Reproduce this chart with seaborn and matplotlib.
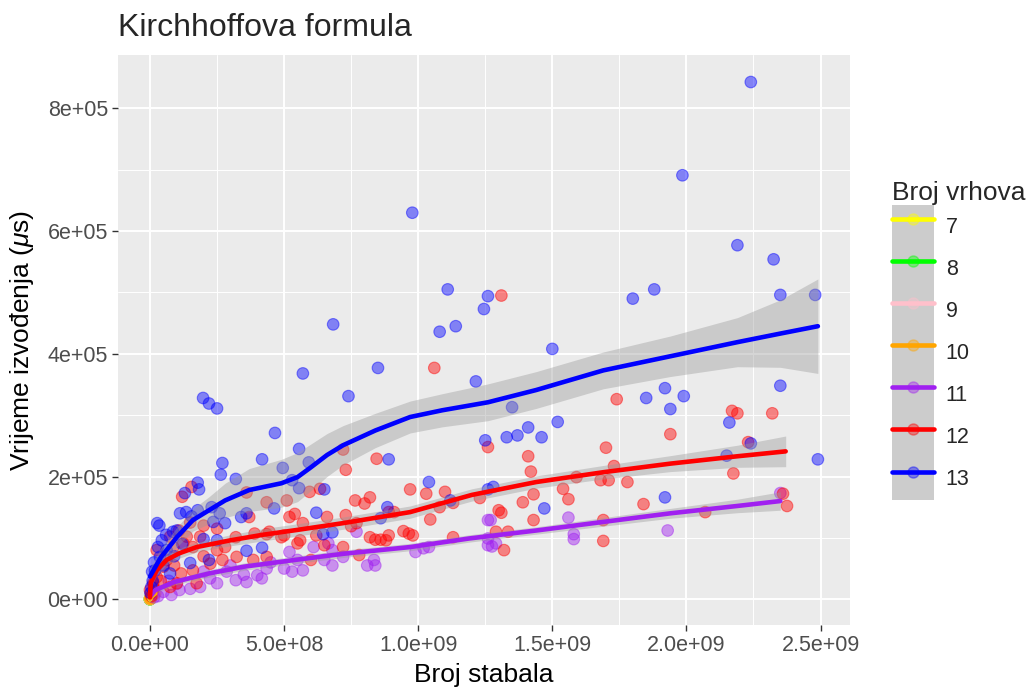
import numpy as np
import pandas as pd
import matplotlib
matplotlib.use("Agg")
import matplotlib.pyplot as plt
import seaborn as sns
from matplotlib.lines import Line2D
from matplotlib.patches import Patch

# values: x in units of 1e8 trees, y in units of 1e4 microseconds
X_UNIT = 1e8
Y_UNIT = 1e4

groups = ["7", "8", "9", "10", "11", "12", "13"]
colors = ["#FFFF00", "#00FF00", "#FFC0CB", "#FFA500", "#A020F0", "#FF0000", "#0000FF"]

x_7 = [0.00002, 0.00004, 0.00006]
y_7 = [0.001, 0.0015, 0.002]
x_8 = [0.0002, 0.0004, 0.0006, 0.001]
y_8 = [0.005, 0.01, 0.012, 0.02]
x_9 = [0.001, 0.002, 0.004, 0.006, 0.01]
y_9 = [0.02, 0.03, 0.05, 0.08, 0.1]
x_10 = [0.005, 0.01, 0.02, 0.04, 0.06, 0.1, 0.15, 0.2]
y_10 = [0.05, 0.1, 0.15, 0.3, 0.4, 0.6, 0.8, 1.0]

x_11 = [12.7, 15.6, 15.8, 15.8, 19.3, 23.5, 12.6, 12.75, 12.9, 5.2, 5.5, 5.0, 5.3, 4.35,
        4.0, 4.17, 3.6, 3.2, 2.24, 2.5, 1.5, 0.8, 1.1, 1.87, 2.86, 6.65, 6.8, 6.5, 6.8,
        7.7, 8.1, 8.35, 8.4, 9.9, 10.4, 10.2, 12.6, 12.6, 7.2, 6.1, 5.7, 0.3, 0.5, 0.15,
        1.0, 2.0, 3.0, 3.5, 4.5, 0.7]
y_11 = [12.9, 13.3, 10.6, 9.8, 11.2, 17.3, 9.9, 8.6, 9.1, 7.7, 6.4, 5.0, 4.5, 5.0,
        3.9, 3.4, 2.8, 3.1, 3.4, 2.6, 1.7, 0.7, 1.5, 2.0, 4.5, 9.1, 8.0, 6.4, 5.5,
        11.0, 5.5, 6.4, 5.5, 7.7, 8.5, 8.3, 12.9, 8.8, 6.9, 8.5, 4.7, 0.5, 1.2, 0.3,
        2.5, 4.5, 5.5, 4.0, 6.0, 3.0]

x_12 = [13.1, 10.6, 12.6, 14.1, 14.2, 17.4, 17.0, 17.3, 19.4, 21.7, 21.9, 23.2, 22.3, 21.75,
        15.9, 16.8, 17.1, 17.8, 15.4, 14.3, 15.6, 13.9, 12.3, 13.0, 13.1, 14.3, 18.4, 16.9,
        20.7, 23.6, 23.75, 12.9, 13.35, 13.2, 16.9, 7.3, 8.45, 7.2, 1.2, 1.55, 3.6, 4.35,
        5.1, 5.95, 6.34, 9.7, 10.3, 11.0, 11.3, 10.8, 7.65, 8.0, 8.2, 5.2, 5.4, 5.7, 3.7,
        10.45, 8.9, 9.1, 7.3, 6.6, 7.5, 7.7, 6.2, 6.5, 5.6, 5.5, 5.0, 4.45, 4.35, 4.9, 3.9,
        3.2, 9.45, 9.65, 9.8, 8.2, 8.4, 8.6, 8.8, 8.9, 7.2, 7.8, 11.3, 6.0, 3.85, 4.35, 3.23,
        2.7, 2.5, 2.25, 1.6, 1.74, 1.16, 1.0, 0.5, 0.62, 0.87, 1.24, 1.6, 1.87, 1.37, 1.08,
        0.75, 0.25, 0.12, 0.0, 0.25, 0.75, 0.05, 0.03, 0.15, 0.4, 0.9, 2.0, 2.8, 2.0, 2.5, 1.5]
y_12 = [49.5, 37.7, 24.8, 23.3, 20.8, 32.6, 24.7, 21.7, 26.9, 30.7, 30.3, 30.3, 25.6, 20.5,
        19.9, 19.4, 19.4, 19.1, 18.0, 17.1, 16.3, 15.8, 16.5, 14.5, 14.1, 12.9, 15.5, 12.9,
        14.2, 17.2, 15.2, 11.0, 11.0, 8.0, 9.5, 21.1, 22.9, 24.4, 16.7, 18.3, 17.4, 15.8,
        16.1, 17.5, 18.0, 17.9, 17.2, 17.5, 15.7, 15.0, 16.1, 15.6, 16.6, 13.4, 13.9, 12.4, 13.4,
        13.0, 14.2, 14.2, 13.7, 13.4, 11.9, 12.4, 10.4, 8.8, 9.6, 9.1, 10.4, 11.0, 10.6, 10.1, 10.7,
        10.1, 11.1, 10.7, 10.4, 10.1, 9.7, 9.7, 9.6, 10.4, 8.5, 7.2, 10.1, 6.4, 6.4, 6.9, 6.9,
        6.4, 8.0, 5.8, 4.7, 2.6, 4.2, 2.6, 5.3, 6.4, 8.5, 9.1, 8.5, 10.2, 10.2, 11.2,
        10.2, 8.0, 2.6, 1.5, 3.6, 2.0, 0.5, 1.0, 1.8, 3.0, 5.5, 7.0, 8.5, 12.0, 11.5, 12.5]

x_13 = [22.4, 19.85, 9.78, 21.9, 23.25, 23.5, 24.8, 11.1, 12.6, 12.45, 10.8, 11.4, 6.83, 5.7,
        8.5, 15.0, 18.0, 18.8, 12.15, 18.5, 19.2, 19.4, 19.9, 21.6, 22.4, 21.5, 23.5, 24.9,
        13.5, 12.5, 13.3, 13.7, 14.1, 14.6, 15.2, 12.8, 12.6, 14.7, 19.2, 10.4, 7.4, 4.66,
        6.5, 8.9, 11.2, 1.98, 2.2, 2.5, 5.56, 2.7, 2.64, 4.18, 3.2, 4.95, 5.92, 1.78, 1.3,
        1.83, 0.27, 0.35, 1.35, 1.12, 1.55, 1.78, 1.0, 2.3, 2.6, 2.8, 3.4, 3.6, 4.63, 5.56,
        6.2, 6.46, 6.8, 8.6, 2.36, 2.5, 2.0, 3.6, 4.18, 2.2, 1.5, 0.44, 0.62, 0.86, 0.37,
        0.19, 0.75, 0.05, 0.1, 0.02, 0.15, 0.3, 0.5, 0.08, 0.6, 1.2, 0.9, 8.85, 5.3]
y_13 = [84.3, 69.1, 63.0, 57.7, 55.4, 49.6, 49.6, 50.5, 49.4, 47.3, 43.6, 44.5, 44.8, 36.8,
        37.7, 40.8, 49.0, 50.5, 35.5, 32.8, 34.4, 31.0, 33.1, 28.8, 25.4, 23.4, 34.8, 22.8,
        31.3, 25.9, 26.4, 26.7, 28.0, 26.4, 28.9, 18.3, 17.9, 14.8, 16.6, 19.1, 33.1, 27.1,
        17.9, 22.8, 16.1, 32.8, 31.9, 31.1, 24.5, 22.2, 20.3, 22.8, 19.6, 21.4, 22.3, 19.0, 17.3,
        17.9, 12.4, 12.0, 14.2, 14.0, 13.5, 14.5, 11.2, 15.0, 14.0, 12.4, 13.4, 14.0, 14.8, 18.1,
        14.1, 10.6, 10.9, 13.2, 12.6, 9.6, 9.8, 7.9, 8.4, 6.4, 5.9, 9.6, 8.0, 11.0, 6.9,
        4.7, 4.2, 2.0, 3.0, 1.0, 6.0, 8.5, 5.5, 4.5, 10.5, 9.0, 7.0, 15.0, 19.4]

# loess curves and their standard error half widths
fit_x_7 = [0.0, 0.00006]
fit_y_7 = [0.0, 0.002]
fit_se_7 = [0.05, 0.05]
fit_x_8 = [0.0, 0.001]
fit_y_8 = [0.0, 0.02]
fit_se_8 = [0.05, 0.05]
fit_x_9 = [0.0, 0.01]
fit_y_9 = [0.0, 0.1]
fit_se_9 = [0.05, 0.05]
fit_x_10 = [0.0, 0.1, 0.2]
fit_y_10 = [0.05, 0.55, 0.95]
fit_se_10 = [0.1, 0.1, 0.15]
fit_x_11 = [0, 0.2, 0.9, 2.2, 3.5, 5.4, 7.2, 9.7, 11.9, 14.4, 16.9, 19.4, 21.9, 23.5]
fit_y_11 = [0.4, 1.5, 2.8, 4.2, 5.3, 6.4, 7.4, 8.5, 9.9, 11.2, 12.6, 14.0, 15.2, 16.0]
fit_se_11 = [0.5, 0.5, 0.5, 0.6, 0.6, 0.6, 0.6, 0.6, 0.6, 0.6, 0.7, 0.8, 1.1, 1.5]
fit_x_12 = [0, 0.03, 0.25, 0.62, 1.1, 1.74, 3.0, 4.2, 5.5, 7.2, 9.7, 12.0, 14.4, 16.9, 19.4, 21.9, 23.7]
fit_y_12 = [0.3, 2.7, 4.7, 6.4, 7.5, 8.5, 9.6, 10.5, 11.3, 12.4, 14.2, 17.0, 19.1, 20.7, 22.1, 23.3, 24.1]
fit_se_12 = [0.8, 0.8, 0.8, 0.8, 0.8, 0.8, 0.9, 1.0, 1.0, 1.0, 1.0, 1.0, 1.0, 1.1, 1.3, 1.8, 2.5]
fit_x_13 = [0, 0.4, 1, 1.6, 2.2, 2.8, 3.7, 4.9, 5.5, 6.0, 6.6, 7.2, 8.4, 9.7, 10.9, 12.6, 14.4,
            16.9, 19.4, 21.9, 23.5, 24.9]
fit_y_13 = [3.7, 6.8, 10.1, 12.9, 14.5, 16.1, 17.8, 18.9, 19.9, 21.5, 23.5, 25.1, 27.5, 29.7,
            30.8, 32.1, 34.1, 37.3, 39.6, 41.9, 43.3, 44.5]
fit_se_13 = [1.5, 1.5, 1.6, 1.8, 2.2, 2.8, 3.5, 3.9, 4.0, 3.8, 3.5, 3.2, 2.8, 2.6, 2.7, 3.0,
             3.0, 3.0, 3.3, 4.0, 5.5, 7.7]

x_ticks = [0.0, 5.0e8, 1.0e9, 1.5e9, 2.0e9, 2.5e9]
x_tick_labels = ["0.0e+00", "5.0e+08", "1.0e+09", "1.5e+09", "2.0e+09", "2.5e+09"]
y_ticks = [0, 2e5, 4e5, 6e5, 8e5]
y_tick_labels = ["0e+00", "2e+05", "4e+05", "6e+05", "8e+05"]

points_x = [x_7, x_8, x_9, x_10, x_11, x_12, x_13]
points_y = [y_7, y_8, y_9, y_10, y_11, y_12, y_13]
fits = [(fit_x_7, fit_y_7, fit_se_7), (fit_x_8, fit_y_8, fit_se_8), (fit_x_9, fit_y_9, fit_se_9),
        (fit_x_10, fit_y_10, fit_se_10), (fit_x_11, fit_y_11, fit_se_11),
        (fit_x_12, fit_y_12, fit_se_12), (fit_x_13, fit_y_13, fit_se_13)]

frames = []
for g, xs, ys in zip(groups, points_x, points_y):
    frames.append(pd.DataFrame({"stabla": np.array(xs) * X_UNIT,
                                "vrijeme": np.array(ys) * Y_UNIT,
                                "vrhovi": g}))
df = pd.concat(frames, ignore_index=True)

sns.set_theme(style="darkgrid", rc={
    "axes.facecolor": "#EBEBEB",
    "grid.color": "white",
    "grid.linewidth": 1.4,
    "figure.facecolor": "white",
})
plt.rcParams["font.family"] = ["Liberation Sans", "DejaVu Sans"]
plt.rcParams["mathtext.fontset"] = "custom"
plt.rcParams["mathtext.it"] = "Liberation Sans:italic"
plt.rcParams["mathtext.rm"] = "Liberation Sans"

fig = plt.figure(figsize=(10.31, 6.88), dpi=100)
ax = fig.add_axes([0.1145, 0.0916, 0.71, 0.8284])

palette = dict(zip(groups, colors))
sns.scatterplot(data=df, x="stabla", y="vrijeme", hue="vrhovi", palette=palette,
                alpha=0.45, s=70, edgecolor="face", linewidth=0.8, legend=False, ax=ax,
                zorder=2)

for g, c, (fx, fy, fs) in zip(groups, colors, fits):
    fx = np.array(fx) * X_UNIT
    fy = np.array(fy) * Y_UNIT
    fs = np.array(fs) * Y_UNIT
    ax.fill_between(fx, fy - fs, fy + fs, color="#999999", alpha=0.4, lw=0, zorder=3)
    sns.lineplot(x=fx, y=fy, color=c, lw=3.3, ax=ax, zorder=4, sort=False)

ax.set_xlim(-1.19e8, 2.61e9)
ax.set_ylim(-4.2e4, 8.87e5)
ax.set_xticks(x_ticks, x_tick_labels)
ax.set_yticks(y_ticks, y_tick_labels)
ax.set_xticks([2.5e8, 7.5e8, 1.25e9, 1.75e9, 2.25e9], minor=True)
ax.set_yticks([1e5, 3e5, 5e5, 7e5], minor=True)
ax.grid(which="major", color="white", lw=1.4)
ax.grid(which="minor", color="white", lw=0.7)
ax.tick_params(which="major", length=4, width=1, color="#333333", labelcolor="#4D4D4D",
               labelsize=15.5, pad=3, bottom=True, left=True)
ax.tick_params(which="minor", length=0)
for sp in ax.spines.values():
    sp.set_visible(False)

ax.set_xlabel("Broj stabala", fontsize=19, color="black", labelpad=5)
ax.set_ylabel("Vrijeme izvođenja ($\\mu$s)", fontsize=19, color="black", labelpad=8)
ax.set_title("Kirchhoffova formula", loc="left", fontsize=23, pad=14)

handles = []
for c in colors:
    handles.append((Patch(facecolor="#CCCCCC", edgecolor="none"),
                    Line2D([], [], color=c, lw=3.3),
                    Line2D([], [], marker="o", ls="", color=c, alpha=0.4, ms=8)))
leg = fig.legend(handles, groups, title="Broj vrhova", loc="center left",
                 bbox_to_anchor=(0.865, 0.505), frameon=False, fontsize=15.5,
                 title_fontsize=19, handlelength=1.95, handleheight=2.63,
                 labelspacing=0, handletextpad=0.55, borderpad=0, borderaxespad=0,
                 alignment="left")

fig.savefig("out.png", dpi=100)
